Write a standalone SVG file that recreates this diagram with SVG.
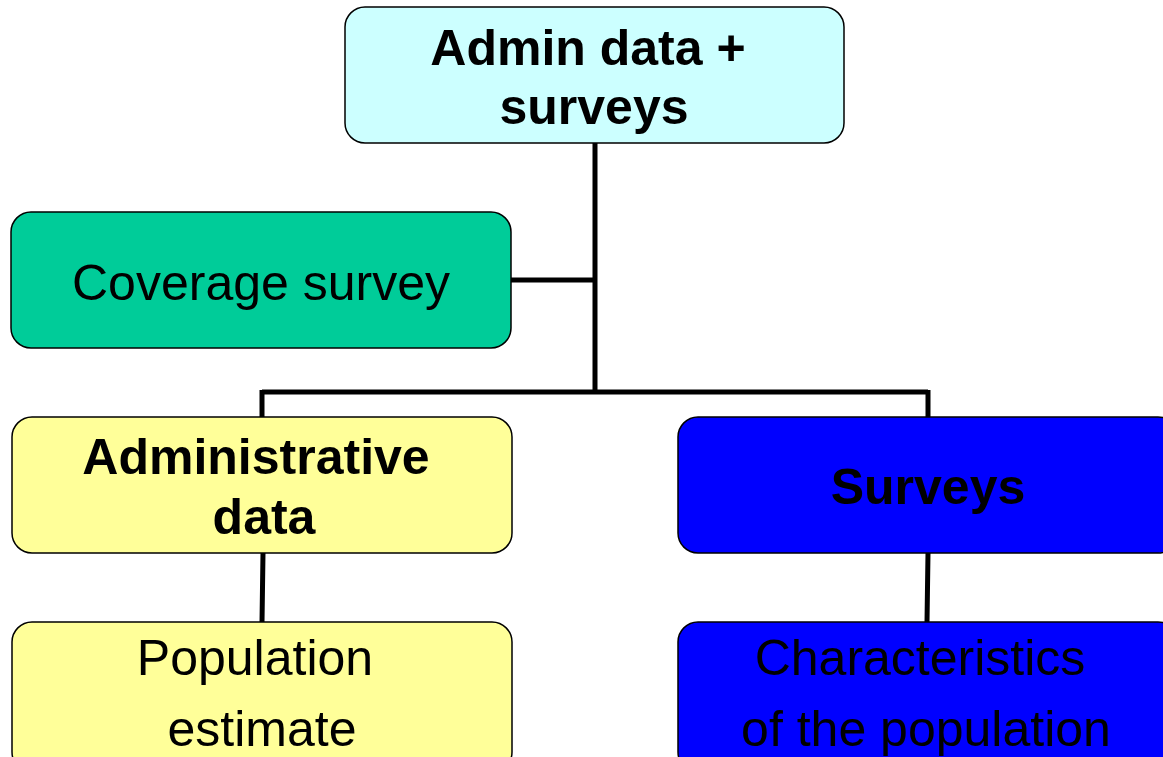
<svg xmlns="http://www.w3.org/2000/svg" width="1163" height="757" viewBox="0 0 1163 757">
<style>
.box{stroke:#000;stroke-width:1.5}
.t{font-family:"Liberation Sans",Arial,sans-serif;font-size:50px;fill:#000;text-anchor:middle}
.b{font-weight:bold}
.c{fill:none;stroke:#000;stroke-width:5}
</style>
<rect width="1163" height="757" fill="#fff"/>
<g id="connectors">
<path class="c" d="M595,143 V392 M511,280 H595 M262,392 H928 M262,390 V417 M928,390 V417 M263,553 L262,622 M928,553 L927,622"/>
</g>
<g id="admin-surveys">
<rect class="box" x="345" y="7" width="499" height="136" rx="20" fill="#CCFFFF"/>
<text class="t b" x="588" y="65">Admin data +</text>
<text class="t b" x="594" y="124">surveys</text>
</g>
<g id="coverage-survey">
<rect class="box" x="11" y="212" width="500" height="136" rx="20" fill="#00CC99"/>
<text class="t" x="261" y="300">Coverage survey</text>
</g>
<g id="administrative-data">
<rect class="box" x="12" y="417" width="500" height="136" rx="20" fill="#FFFF99"/>
<text class="t b" x="256" y="474">Administrative</text>
<text class="t b" x="264" y="534">data</text>
</g>
<g id="surveys">
<rect class="box" x="678" y="417" width="500" height="136" rx="20" fill="#0000FF"/>
<text class="t b" x="928" y="504">Surveys</text>
</g>
<g id="population-estimate">
<rect class="box" x="12" y="622" width="500" height="150" rx="20" fill="#FFFF99"/>
<text class="t" x="255" y="675">Population</text>
<text class="t" x="262" y="746">estimate</text>
</g>
<g id="characteristics">
<rect class="box" x="678" y="622" width="500" height="150" rx="20" fill="#0000FF"/>
<text class="t" x="920" y="675">Characteristics</text>
<text class="t" x="926" y="746">of the population</text>
</g>
</svg>
